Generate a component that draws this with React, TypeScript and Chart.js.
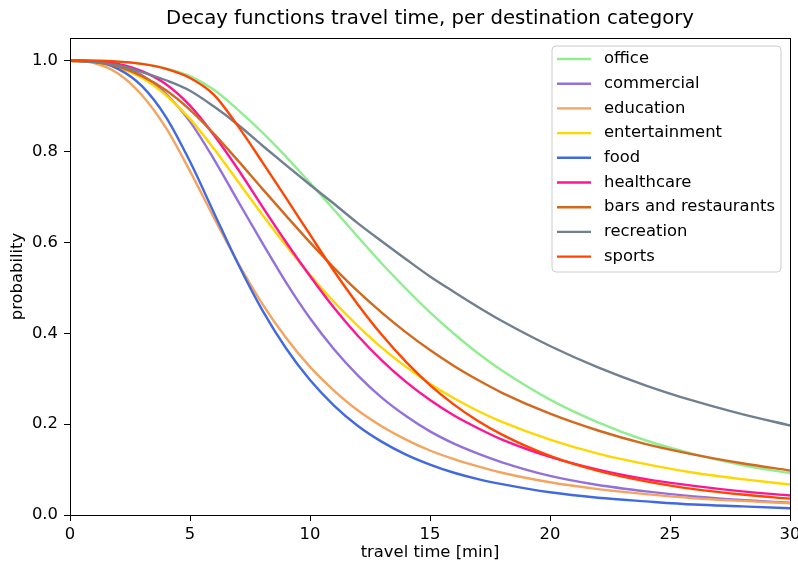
import React, { useEffect, useRef } from "react";
import { Chart, registerables } from "chart.js";

Chart.register(...registerables);

const times = [0, 1, 2, 3, 4, 5, 6, 7, 8, 9, 10, 11, 12, 13, 14, 15, 16, 17, 18, 20, 22, 24, 26, 28, 30];

const office = [1.0, 1.0, 0.998, 0.993, 0.983, 0.966, 0.936, 0.892, 0.843, 0.789, 0.731, 0.672, 0.612, 0.553, 0.498, 0.446, 0.399, 0.356, 0.318, 0.254, 0.204, 0.164, 0.134, 0.11, 0.092];
const commercial = [1.0, 0.999, 0.99, 0.968, 0.927, 0.866, 0.783, 0.691, 0.6, 0.512, 0.433, 0.365, 0.307, 0.258, 0.218, 0.184, 0.157, 0.135, 0.116, 0.086, 0.066, 0.052, 0.041, 0.033, 0.027];
const education = [1.0, 0.995, 0.972, 0.924, 0.852, 0.757, 0.654, 0.555, 0.466, 0.39, 0.326, 0.274, 0.23, 0.195, 0.166, 0.142, 0.123, 0.107, 0.093, 0.072, 0.057, 0.046, 0.037, 0.031, 0.026];
const entertainment = [1.0, 0.997, 0.985, 0.962, 0.924, 0.872, 0.806, 0.734, 0.662, 0.593, 0.529, 0.469, 0.416, 0.368, 0.326, 0.289, 0.257, 0.229, 0.205, 0.166, 0.135, 0.112, 0.093, 0.079, 0.067];
const food = [1.0, 0.998, 0.982, 0.944, 0.876, 0.778, 0.665, 0.553, 0.452, 0.367, 0.297, 0.241, 0.196, 0.161, 0.133, 0.111, 0.093, 0.079, 0.068, 0.05, 0.038, 0.03, 0.023, 0.019, 0.015];
const healthcare = [1.0, 0.999, 0.993, 0.977, 0.948, 0.901, 0.836, 0.761, 0.68, 0.601, 0.526, 0.456, 0.394, 0.34, 0.293, 0.253, 0.219, 0.191, 0.166, 0.128, 0.1, 0.079, 0.064, 0.052, 0.043];
const barsAndRestaurants = [1.0, 0.997, 0.987, 0.966, 0.935, 0.892, 0.839, 0.78, 0.719, 0.659, 0.6, 0.544, 0.492, 0.445, 0.402, 0.363, 0.328, 0.297, 0.269, 0.223, 0.186, 0.156, 0.133, 0.114, 0.098];
const recreation = [1.0, 0.997, 0.99, 0.975, 0.957, 0.934, 0.899, 0.859, 0.814, 0.77, 0.727, 0.685, 0.642, 0.602, 0.563, 0.525, 0.491, 0.458, 0.427, 0.372, 0.325, 0.285, 0.251, 0.222, 0.197];
const sports = [1.0, 1.0, 0.998, 0.993, 0.982, 0.962, 0.925, 0.856, 0.778, 0.698, 0.617, 0.537, 0.463, 0.396, 0.337, 0.286, 0.243, 0.207, 0.177, 0.13, 0.097, 0.074, 0.057, 0.045, 0.036];

const categories = ["office", "commercial", "education", "entertainment", "food", "healthcare", "bars and restaurants", "recreation", "sports"];
const seriesValues = [office, commercial, education, entertainment, food, healthcare, barsAndRestaurants, recreation, sports];
const seriesColors = ["#90EE90", "#9370DB", "#F4A460", "#FFD700", "#4169E1", "#FF1493", "#D2691E", "#708090", "#FF4500"];

const xTicks = [0, 5, 10, 15, 20, 25, 30];
const yTicks = [0, 0.2, 0.4, 0.6, 0.8, 1.0];

const titleText = "Decay functions travel time, per destination category";
const xLabel = "travel time [min]";
const yLabel = "probability";

const FONT = "'DejaVu Sans', sans-serif";
const FS = 16.4;

const decorPlugin = {
  id: "decor",
  afterDraw(chart: any) {
    const ctx = chart.ctx;
    const area = chart.chartArea;
    ctx.save();
    ctx.strokeStyle = "#000";
    ctx.lineWidth = 1;
    ctx.strokeRect(Math.round(area.left) + 0.5, Math.round(area.top) + 0.5, Math.round(area.right - area.left), Math.round(area.bottom - area.top));

    ctx.fillStyle = "#000";
    ctx.textAlign = "center";
    ctx.textBaseline = "middle";
    ctx.font = `19.7px ${FONT}`;
    ctx.fillText(titleText, (area.left + area.right) / 2, 19);

    ctx.font = `${FS}px ${FONT}`;
    ctx.fillText(xLabel, (area.left + area.right) / 2, 553);
    ctx.save();
    ctx.translate(18, (area.top + area.bottom) / 2);
    ctx.rotate(-Math.PI / 2);
    ctx.fillText(yLabel, 0, 0);
    ctx.restore();

    const bx = 552, by = 46, bw = 229, bh = 226, r = 4;
    ctx.beginPath();
    ctx.moveTo(bx + r, by);
    ctx.lineTo(bx + bw - r, by);
    ctx.quadraticCurveTo(bx + bw, by, bx + bw, by + r);
    ctx.lineTo(bx + bw, by + bh - r);
    ctx.quadraticCurveTo(bx + bw, by + bh, bx + bw - r, by + bh);
    ctx.lineTo(bx + r, by + bh);
    ctx.quadraticCurveTo(bx, by + bh, bx, by + bh - r);
    ctx.lineTo(bx, by + r);
    ctx.quadraticCurveTo(bx, by, bx + r, by);
    ctx.closePath();
    ctx.fillStyle = "rgba(255,255,255,0.8)";
    ctx.fill();
    ctx.strokeStyle = "#cccccc";
    ctx.lineWidth = 1;
    ctx.stroke();

    ctx.textAlign = "left";
    ctx.textBaseline = "middle";
    ctx.font = `${FS}px ${FONT}`;
    chart.data.datasets.forEach((ds: any, i: number) => {
      const y = 59 + i * 24.7;
      ctx.strokeStyle = ds.borderColor;
      ctx.lineWidth = 2.4;
      ctx.beginPath();
      ctx.moveTo(557, y);
      ctx.lineTo(591, y);
      ctx.stroke();
      ctx.fillStyle = "#000";
      ctx.fillText(ds.label, 604, y);
    });
    ctx.restore();
  },
};

export default function App() {
  const canvasRef = useRef<HTMLCanvasElement | null>(null);

  useEffect(() => {
    document.body.style.margin = "0";
    const canvas = canvasRef.current;
    if (!canvas) return;
    const n = categories.length;
    const chart = new Chart(canvas, {
      type: "line",
      data: {
        datasets: categories.map((name, i) => ({
          label: name,
          data: times.map((t, j) => ({ x: t, y: seriesValues[i][j] })),
          borderColor: seriesColors[i],
          backgroundColor: seriesColors[i],
          borderWidth: 2.4,
          pointRadius: 0,
          fill: false,
          cubicInterpolationMode: "monotone" as const,
          order: n - 1 - i,
        })),
      },
      options: {
        responsive: false,
        animation: false,
        devicePixelRatio: 1,
        layout: { padding: { top: 38, right: 8, left: 0, bottom: 0 } },
        plugins: {
          legend: { display: false },
          title: { display: false },
          tooltip: { enabled: false },
        },
        scales: {
          x: {
            type: "linear",
            min: 0,
            max: 30,
            afterBuildTicks: (scale: any) => {
              scale.ticks = xTicks.map((v) => ({ value: v }));
            },
            afterFit: (scale: any) => {
              scale.height = 51;
              scale.paddingLeft = 0;
              scale.paddingRight = 0;
            },
            grid: { display: true, drawOnChartArea: false, drawTicks: true, tickLength: 6, color: "#000" },
            border: { display: true, color: "#000", width: 1 },
            ticks: {
              color: "#000",
              font: { family: FONT, size: FS },
              padding: 4,
              maxRotation: 0,
              callback: (v: any) => String(v),
            },
          },
          y: {
            type: "linear",
            min: 0,
            max: 1.05,
            afterBuildTicks: (scale: any) => {
              scale.ticks = yTicks.map((v) => ({ value: v }));
            },
            afterFit: (scale: any) => {
              scale.width = 70;
              scale.paddingTop = 0;
              scale.paddingBottom = 0;
            },
            grid: { display: true, drawOnChartArea: false, drawTicks: true, tickLength: 6, color: "#000" },
            border: { display: true, color: "#000", width: 1 },
            ticks: {
              color: "#000",
              font: { family: FONT, size: FS },
              padding: 6,
              callback: (v: any) => Number(v).toFixed(1),
            },
          },
        },
      },
      plugins: [decorPlugin],
    });
    return () => chart.destroy();
  }, []);

  return (
    <div style={{ width: 798, height: 566 }}>
      <canvas ref={canvasRef} width={798} height={566} style={{ width: 798, height: 566, display: "block" }} />
    </div>
  );
}
